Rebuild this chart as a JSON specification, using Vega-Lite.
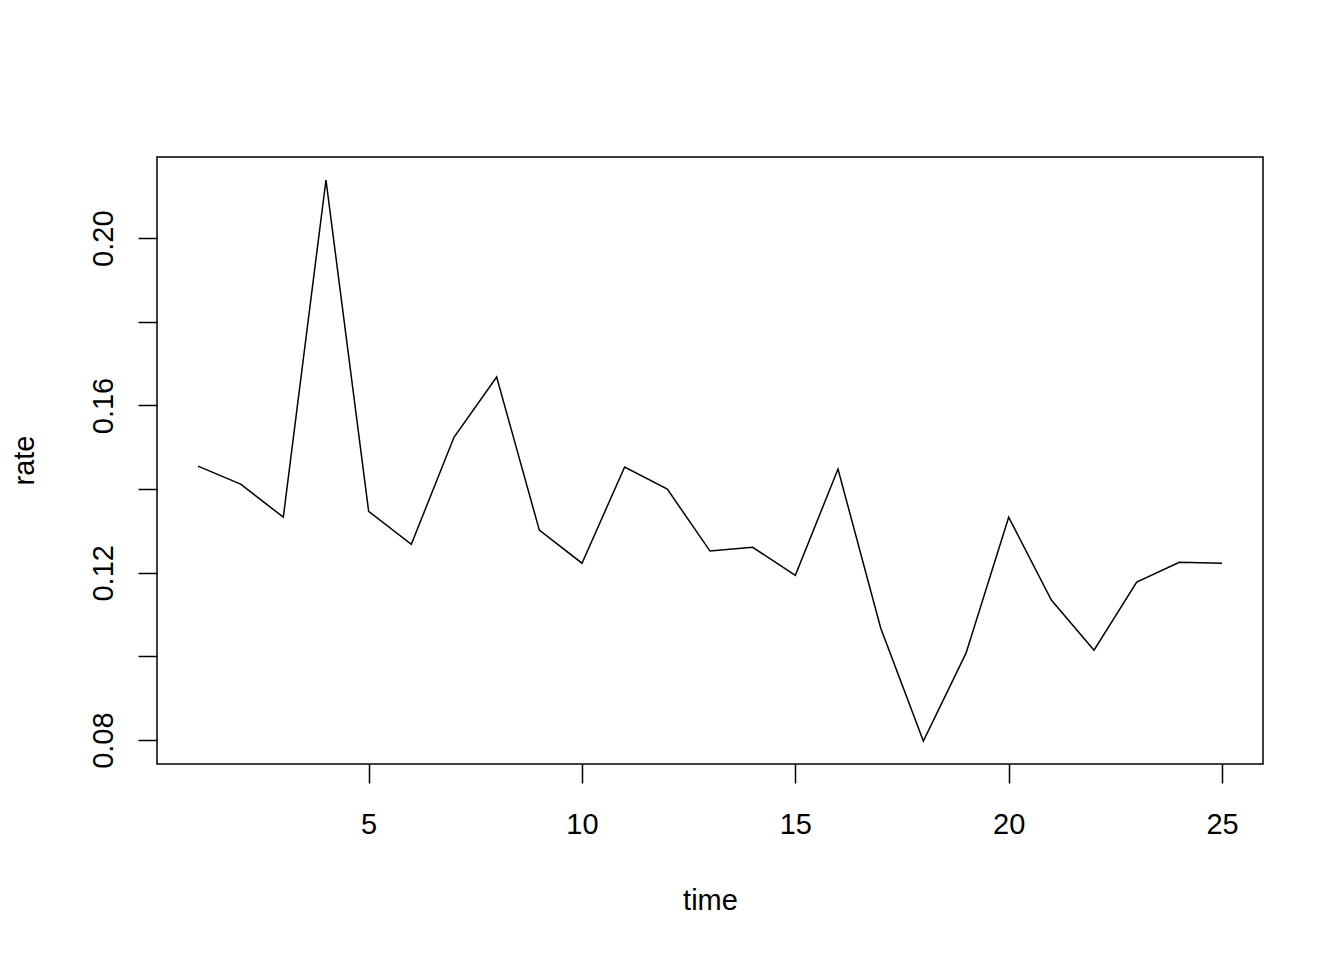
{
  "$schema": "https://vega.github.io/schema/vega-lite/v6.json",
  "width": 1106,
  "height": 607,
  "autosize": {"type": "none"},
  "padding": {"left": 157, "top": 157, "right": 81, "bottom": 196},
  "background": "white",
  "config": {
    "view": {"stroke": "black", "strokeWidth": 1.5},
    "font": "Liberation Sans"
  },
  "data": {
    "values": [
      {"time": 1, "rate": 0.1455},
      {"time": 2, "rate": 0.1412},
      {"time": 3, "rate": 0.1333},
      {"time": 4, "rate": 0.2139},
      {"time": 5, "rate": 0.1347},
      {"time": 6, "rate": 0.1268},
      {"time": 7, "rate": 0.1524},
      {"time": 8, "rate": 0.1668},
      {"time": 9, "rate": 0.1302},
      {"time": 10, "rate": 0.1223},
      {"time": 11, "rate": 0.1453},
      {"time": 12, "rate": 0.1400},
      {"time": 13, "rate": 0.1252},
      {"time": 14, "rate": 0.1261},
      {"time": 15, "rate": 0.1194},
      {"time": 16, "rate": 0.1448},
      {"time": 17, "rate": 0.1068},
      {"time": 18, "rate": 0.0798},
      {"time": 19, "rate": 0.1008},
      {"time": 20, "rate": 0.1333},
      {"time": 21, "rate": 0.1135},
      {"time": 22, "rate": 0.1015},
      {"time": 23, "rate": 0.1178},
      {"time": 24, "rate": 0.1225},
      {"time": 25, "rate": 0.1223}
    ]
  },
  "mark": {"type": "line", "color": "black", "strokeWidth": 1.5},
  "encoding": {
    "x": {
      "field": "time",
      "type": "quantitative",
      "scale": {"domain": [0.04, 25.96], "nice": false, "zero": false},
      "axis": {
        "values": [5, 10, 15, 20, 25],
        "grid": false,
        "domain": false,
        "tickSize": 19,
        "tickWidth": 1.5,
        "tickColor": "black",
        "labelFontSize": 29,
        "labelColor": "black",
        "labelBaseline": "alphabetic",
        "labelPadding": 50,
        "labelFlush": false,
        "title": "time",
        "titleFontSize": 29,
        "titleFontWeight": "normal",
        "titleColor": "black",
        "titleBaseline": "alphabetic",
        "titleY": 145,
        "titleX": 553
      }
    },
    "y": {
      "field": "rate",
      "type": "quantitative",
      "scale": {"domain": [0.0743, 0.2194], "nice": false, "zero": false},
      "axis": {
        "values": [0.08, 0.10, 0.12, 0.14, 0.16, 0.18, 0.20],
        "labelExpr": "(round(datum.value*100) % 4 == 0) ? format(datum.value, '.2f') : ''",
        "grid": false,
        "domain": false,
        "tickSize": 19,
        "tickWidth": 1.5,
        "tickColor": "black",
        "labelFontSize": 29,
        "labelColor": "black",
        "labelAngle": -90,
        "labelAlign": "center",
        "labelBaseline": "alphabetic",
        "labelPadding": 26,
        "labelFlush": false,
        "labelOverlap": false,
        "title": "rate",
        "titleFontSize": 29,
        "titleFontWeight": "normal",
        "titleColor": "black",
        "titleAngle": -90,
        "titleBaseline": "alphabetic",
        "titleX": -124,
        "titleY": 303
      }
    }
  }
}
